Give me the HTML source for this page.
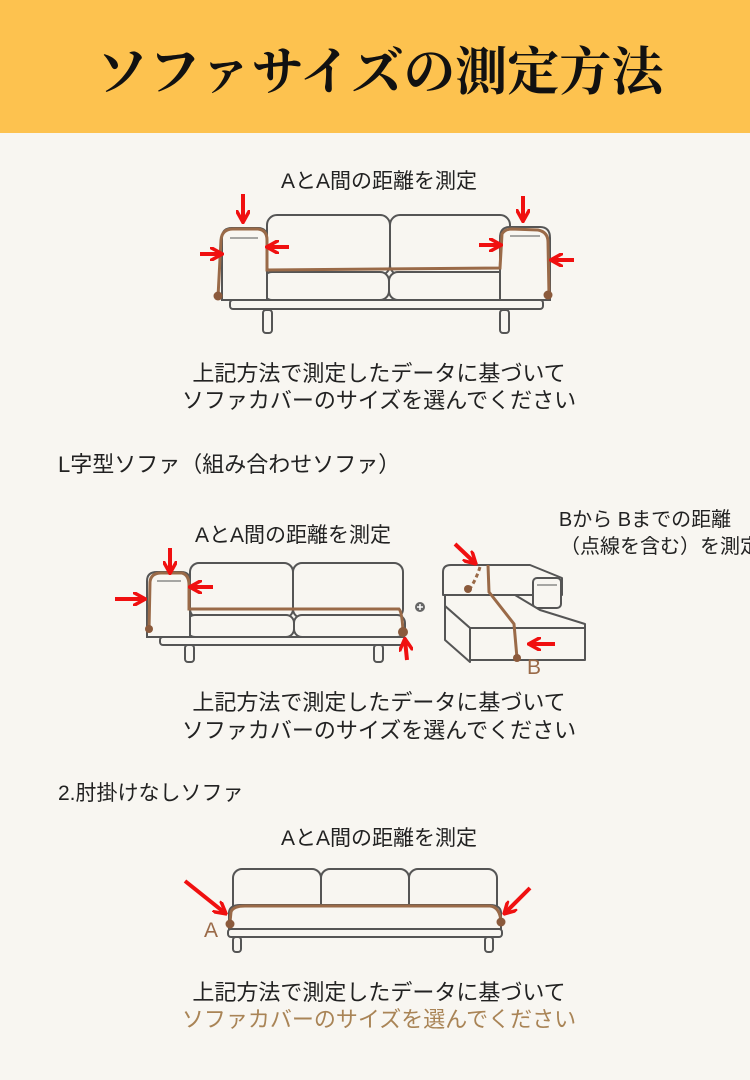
<!DOCTYPE html>
<html><head><meta charset="utf-8"><style>
body{margin:0;width:750px;height:1080px;background:#f8f6f1;overflow:hidden;font-family:"Liberation Sans","Noto Sans CJK JP",sans-serif}
svg{position:absolute;left:0;top:0}
</style></head><body>
<svg width="750" height="1080" viewBox="0 0 750 1080" xmlns="http://www.w3.org/2000/svg">
<defs>
<marker id="ar" viewBox="0 0 10 10" refX="8" refY="5" markerWidth="3.5" markerHeight="3.5" orient="auto"><path d="M0,0 L9,5 L0,10" fill="none" stroke="#f01010" stroke-width="2.5"/></marker>
</defs>
<rect x="0" y="0" width="750" height="133" fill="#fdc24f"/>
<text x="380" y="90" text-anchor="middle" font-family="'Noto Serif CJK SC','Liberation Serif',serif" font-weight="bold" font-size="52" fill="#111">ソファサイズの測定方法</text>

<g font-size="21" fill="#222" text-anchor="middle">
<text x="379" y="188">AとA間の距離を測定</text>
<text x="379" y="381" font-size="22">上記方法で測定したデータに基づいて</text>
<text x="379" y="408" font-size="22">ソファカバーのサイズを選んでください</text>
<text x="58" y="472" font-size="22" text-anchor="start">L字型ソファ（組み合わせソファ）</text>
<text x="293" y="542">AとA間の距離を測定</text>
<text x="645" y="526" font-size="20">Bから Bまでの距離</text>
<text x="660" y="553" font-size="20">（点線を含む）を測定</text>
<text x="379" y="710" font-size="22">上記方法で測定したデータに基づいて</text>
<text x="379" y="738" font-size="22">ソファカバーのサイズを選んでください</text>
<text x="58" y="800" font-size="21" text-anchor="start">2.肘掛けなしソファ</text>
<text x="379" y="845">AとA間の距離を測定</text>
<text x="379" y="1000" font-size="22">上記方法で測定したデータに基づいて</text>
<text x="379" y="1027" font-size="22" fill="#a98456">ソファカバーのサイズを選んでください</text>
</g>

<!-- Sofa 1 -->
<g fill="#f8f6f1" stroke="#555" stroke-width="2">
<rect x="263" y="310" width="9" height="23" rx="3"/><rect x="500" y="310" width="9" height="23" rx="3"/>
<rect x="230" y="300" width="313" height="9" rx="3"/>
<rect x="267" y="215" width="123" height="60" rx="10"/><rect x="390" y="215" width="120" height="60" rx="10"/>
<rect x="263" y="272" width="126" height="28" rx="9"/><rect x="389" y="272" width="125" height="28" rx="9"/>
<path d="M222,300 V238 Q222,228 232,228 H258 Q267,228 267,238 V300 Z"/>
<path d="M500,300 V238 Q500,227 510,227 H540 Q550,227 550,238 V300 Z"/>
<line x1="230" y1="238" x2="258" y2="238" stroke-width="1"/><line x1="510" y1="236" x2="540" y2="236" stroke-width="1"/>
</g>
<path d="M218,297 L221,240 Q222,229 233,229 L258,229 Q267,230 267,240 L267,270 L500,268 L502,234 Q505,229 512,229 L538,230 Q548,232 548,242 L549,295" fill="none" stroke="#9a6a48" stroke-width="3"/>
<circle cx="218" cy="296" r="4.5" fill="#8b5a3c"/><circle cx="548" cy="295" r="4.5" fill="#8b5a3c"/>
<g stroke="#f01010" stroke-width="4" marker-end="url(#ar)">
<line x1="243" y1="194" x2="243" y2="221"/><line x1="200" y1="254" x2="221" y2="254"/>
<line x1="289" y1="247" x2="268" y2="247"/><line x1="479" y1="245" x2="500" y2="245"/>
<line x1="523" y1="196" x2="523" y2="220"/><line x1="574" y1="260" x2="552" y2="260"/>
</g>

<!-- Sofa 2 -->
<g fill="#f8f6f1" stroke="#555" stroke-width="2">
<rect x="185" y="645" width="9" height="17" rx="3"/><rect x="374" y="645" width="9" height="17" rx="3"/>
<rect x="160" y="637" width="246" height="8" rx="3"/>
<rect x="190" y="563" width="103" height="55" rx="9"/><rect x="293" y="563" width="110" height="55" rx="9"/>
<rect x="187" y="615" width="107" height="22" rx="8"/><rect x="294" y="615" width="111" height="22" rx="8"/>
<path d="M147,637 V581 Q147,572 157,572 H181 Q190,572 190,581 V637 Z"/>
<line x1="157" y1="581" x2="181" y2="581" stroke-width="1"/>
</g>
<path d="M149,630 L150,582 Q151,573 161,573 L182,573 Q189,575 189,585 L189,609 L399,609 Q402,612 403,631" fill="none" stroke="#9a6a48" stroke-width="3"/>
<circle cx="149" cy="629" r="4" fill="#8b5a3c"/><circle cx="403" cy="632" r="5" fill="#8b5a3c"/>
<circle cx="420" cy="607" r="5" fill="#666"/><line x1="417" y1="607" x2="423" y2="607" stroke="#fff" stroke-width="1.5"/><line x1="420" y1="604" x2="420" y2="610" stroke="#fff" stroke-width="1.5"/>
<!-- L sofa -->
<g fill="#f8f6f1" stroke="#555" stroke-width="2" stroke-linejoin="round">
<path d="M443,595 V572 Q443,565 451,565 H530 L562,578 V595 Z"/>
<rect x="533" y="578" width="28" height="30" rx="4"/>
<path d="M445,595 L515,595 L540,610 L585,624 L585,628 L470,628 L445,606 Z"/>
<path d="M470,628 H585 V660 H470 Z"/>
<path d="M445,606 L470,628 L470,662 L445,640 Z"/>
<line x1="537" y1="585" x2="557" y2="585" stroke-width="1"/>
</g>
<path d="M488,565 L489,592 L514,624 L517,658" fill="none" stroke="#9a6a48" stroke-width="3"/>
<path d="M480,567 Q476,580 469,590" fill="none" stroke="#9a6a48" stroke-width="3" stroke-dasharray="4,3"/>
<circle cx="468" cy="589" r="4" fill="#8b5a3c"/><circle cx="517" cy="658" r="4" fill="#8b5a3c"/>
<text x="527" y="674" font-size="21" fill="#9a6a48">B</text>
<g stroke="#f01010" stroke-width="4" marker-end="url(#ar)">
<line x1="170" y1="548" x2="170" y2="572"/><line x1="115" y1="599" x2="144" y2="599"/>
<line x1="213" y1="587" x2="191" y2="587"/><line x1="407" y1="660" x2="405" y2="640"/>
<line x1="455" y1="544" x2="475" y2="563"/><line x1="555" y1="644" x2="530" y2="644"/>
</g>

<!-- Sofa 3 -->
<g fill="#f8f6f1" stroke="#555" stroke-width="2">
<rect x="233" y="937" width="8" height="15" rx="3"/><rect x="485" y="937" width="8" height="15" rx="3"/>
<rect x="228" y="929" width="274" height="8" rx="3"/>
<rect x="233" y="869" width="88" height="60" rx="9"/><rect x="321" y="869" width="88" height="60" rx="9"/><rect x="409" y="869" width="88" height="60" rx="9"/>
<path d="M229,929 V912 Q230,905 240,905 H490 Q500,905 501,912 V929 Z"/>
</g>
<path d="M230,922 L231,912 Q233,906 245,906 L490,906 Q500,907 501,922" fill="none" stroke="#9a6a48" stroke-width="3"/>
<circle cx="230" cy="924" r="4.5" fill="#8b5a3c"/><circle cx="501" cy="922" r="4.5" fill="#8b5a3c"/>
<text x="204" y="937" font-size="21" fill="#9a6a48">A</text>
<g stroke="#f01010" stroke-width="4" marker-end="url(#ar)">
<line x1="185" y1="881" x2="225" y2="913"/><line x1="530" y1="888" x2="505" y2="913"/>
</g>
</svg>
</body></html>
